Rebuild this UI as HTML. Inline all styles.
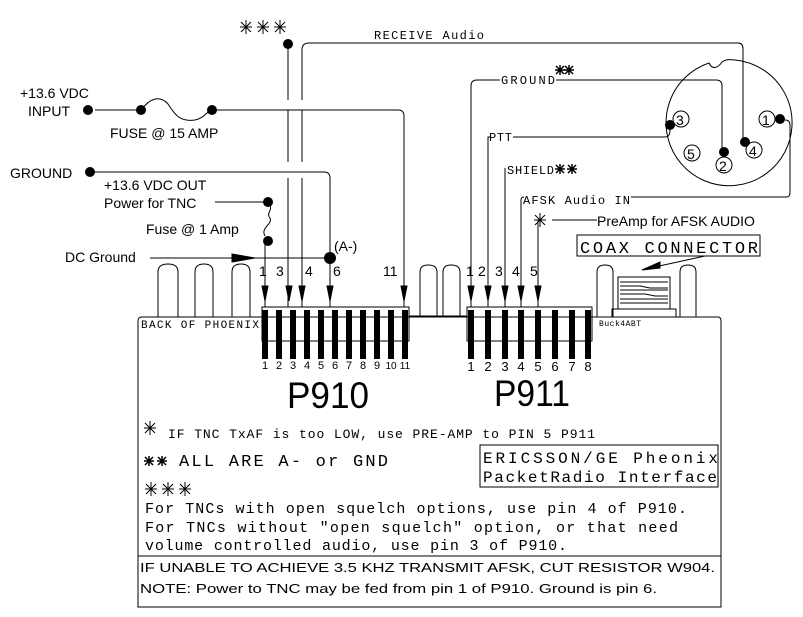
<!DOCTYPE html>
<html><head><meta charset="utf-8"><style>
html,body{margin:0;padding:0;background:#fff;width:803px;height:617px;overflow:hidden}
svg{display:block}
text{font-family:"Liberation Sans",sans-serif;fill:#000}
.m{font-family:"Liberation Mono",monospace}
</style></head><body>
<svg width="803" height="617" viewBox="0 0 803 617" xmlns="http://www.w3.org/2000/svg" stroke="#000" fill="none" stroke-width="1">
<defs>
<g id="ast"><path d="M-6 0 H6 M0 -7 V7 M-5 -5 L5 5 M5 -5 L-5 5"/></g>
<g id="asts"><path d="M-5 0 H5 M0 -5 V5 M-4 -4 L4 4 M4 -4 L-4 4" stroke-width="1.5"/></g>
</defs>
<path d="M142 317 H718 Q721 317 721 321 V607 H138 V321 Q138 317 142 317 Z"/>
<line x1="138" y1="556" x2="721" y2="556"/>
<rect x="480" y="445" width="238" height="42"/>
<g>
<path d="M158 317 V272 Q158 264 168 264 Q178 264 178 272 V317"/>
<path d="M195 317 V272 Q195 264 204 264 Q213 264 213 272 V317"/>
<path d="M232 317 V272 Q232 264 241 264 Q250 264 250 272 V317"/>
<path d="M420 316 V272 Q420 265 428 265 Q437 265 437 272 V316"/>
<path d="M443 316 V272 Q443 265 451 265 Q460 265 460 272 V316"/>
<path d="M597 317 V272 Q597 265 605 265 Q613 265 613 272 V317"/>
<path d="M680 317 V272 Q680 265 688 265 Q696 265 696 272 V317"/>
<line x1="409" y1="316" x2="467" y2="316"/>
</g>
<rect x="618" y="277" width="52" height="32"/>
<rect x="612" y="309" width="64" height="8"/>
<path d="M620 282 H668 M620 286 H640 L650 288 H668 M620 290 H668 M620 294 H645 L655 296 H668 M620 299 H668 M620 303 H668"/>
<rect x="577" y="235" width="183" height="21"/>
<line x1="705" y1="256" x2="650" y2="268"/>
<path d="M642 270 L660 262 L660 268 Z" fill="#000"/>
<rect x="262" y="307" width="147" height="34"/>
<g fill="#000" stroke="none">
<rect x="262" y="310" width="6" height="49"/><rect x="276" y="310" width="6" height="49"/><rect x="290" y="310" width="6" height="49"/><rect x="304" y="310" width="6" height="49"/><rect x="318" y="310" width="6" height="49"/><rect x="332" y="310" width="6" height="49"/><rect x="346" y="310" width="6" height="49"/><rect x="360" y="310" width="6" height="49"/><rect x="374" y="310" width="6" height="49"/><rect x="388" y="310" width="6" height="49"/><rect x="402" y="310" width="6" height="49"/>
<rect x="468" y="310" width="6" height="49"/><rect x="485" y="310" width="6" height="49"/><rect x="502" y="310" width="6" height="49"/><rect x="518" y="310" width="6" height="49"/><rect x="535" y="310" width="6" height="49"/><rect x="552" y="310" width="6" height="49"/><rect x="569" y="310" width="6" height="49"/><rect x="585" y="310" width="6" height="49"/>
</g>
<rect x="467" y="307" width="125" height="34"/>
<g font-size="11" stroke="none" text-anchor="middle">
<text x="265" y="369">1</text><text x="279" y="369">2</text><text x="293" y="369">3</text><text x="307" y="369">4</text><text x="321" y="369">5</text><text x="335" y="369">6</text><text x="349" y="369">7</text><text x="363" y="369">8</text><text x="377" y="369">9</text><text x="391" y="369" font-size="10">10</text><text x="405" y="369" font-size="10">11</text>
</g>
<g font-size="13" stroke="none" text-anchor="middle">
<text x="471" y="371">1</text><text x="488" y="371">2</text><text x="505" y="371">3</text><text x="521" y="371">4</text><text x="538" y="371">5</text><text x="555" y="371">6</text><text x="572" y="371">7</text><text x="588" y="371">8</text>
</g>
<g fill="#000">
<path d="M262 286 L268 286 L265 301 Z"/><path d="M286 286 L292 286 L289 301 Z"/><path d="M299 286 L305 286 L302 301 Z"/><path d="M327 286 L333 286 L330 301 Z"/><path d="M401 286 L407 286 L404 301 Z"/>
<path d="M468 286 L474 286 L471 301 Z"/><path d="M485 286 L491 286 L488 301 Z"/><path d="M502 286 L508 286 L505 301 Z"/><path d="M518 286 L524 286 L521 301 Z"/><path d="M535 286 L541 286 L538 301 Z"/>
</g>
<g>
<line x1="265" y1="240" x2="265" y2="307"/>
<path d="M288 44 V100 M288 110 V162 M288 178 V307"/>
<path d="M302 100 V50 Q302 43 309 43 H738 Q743 43 743 49 V142"/>
<path d="M302 110 V162 M302 178 V307"/>
<line x1="330" y1="258" x2="330" y2="307"/>
<path d="M212 110 H398 Q404 110 404 116 V307"/>
<path d="M95 110 H141"/>
<path d="M141 110 C150 98 160 95 168 104 C175 115 180 122 195 120 C205 118 208 110 212 110"/>
<path d="M90 172 H324 Q330 172 330 178 V258"/>
<path d="M215 202 H268"/>
<path d="M268 202 C275 210 265 213 270 218 C273 224 260 228 265 236"/>
<path d="M150 258 H330"/>
<path d="M471 307 V86 Q471 80 477 80 H500 M556 80 H716 Q722 80 722 86 V152"/>
<path d="M488 307 V137 H490 M513 137 H665 Q670 137 670 130"/>
<path d="M505 307 V168"/>
<path d="M521 307 V200 Q521 197 524 197 M631 197 H787 Q790 197 790 192 V125 Q790 120 785 120"/>
<path d="M538 307 V220 M552 220 H597"/>
</g>
<use href="#ast" x="540" y="220"/>
<use href="#ast" x="246" y="27"/><use href="#ast" x="263" y="27"/><use href="#ast" x="280" y="27"/>
<use href="#asts" x="560" y="70"/><use href="#asts" x="569" y="70"/>
<use href="#asts" x="560" y="169"/><use href="#asts" x="572" y="169"/>
<use href="#ast" x="150" y="428"/>
<use href="#asts" x="149" y="461"/><use href="#asts" x="162" y="461"/>
<use href="#ast" x="151" y="489"/><use href="#ast" x="168" y="489"/><use href="#ast" x="185" y="489"/>
<path d="M232 254 L255 258 L232 262 Z" fill="#000"/>
<g fill="#000" stroke="none">
<circle cx="288" cy="44" r="5"/><circle cx="88" cy="110" r="5"/><circle cx="141" cy="110" r="5"/><circle cx="212" cy="110" r="5"/>
<circle cx="90" cy="172" r="5"/><circle cx="268" cy="202" r="5"/><circle cx="268" cy="241" r="5"/><circle cx="330" cy="258" r="6"/>
<circle cx="670" cy="125" r="5"/><circle cx="724" cy="152" r="5"/><circle cx="745" cy="142" r="5"/><circle cx="780" cy="119" r="5"/>
</g>
<path d="M709 63 C712 70 718 68 722 62 C727 58 733 60 735 60 A63 63 0 1 1 709 63 Z"/>
<circle cx="681" cy="119" r="8"/><text x="676" y="125" font-size="14" stroke="none">3</text>
<circle cx="767" cy="119" r="8"/><text x="762" y="125" font-size="14" stroke="none">1</text>
<circle cx="692" cy="153" r="8"/><text x="687" y="159" font-size="14" stroke="none">5</text>
<circle cx="754" cy="150" r="8"/><text x="749" y="156" font-size="14" stroke="none">4</text>
<circle cx="724" cy="165" r="8"/><text x="719" y="171" font-size="14" stroke="none">2</text>
<g stroke="none" font-size="14">
<text x="20" y="98">+13.6 VDC</text>
<text x="28" y="116">INPUT</text>
<text x="110" y="138">FUSE @ 15 AMP</text>
<text x="10" y="178">GROUND</text>
<text x="104" y="190">+13.6 VDC OUT</text>
<text x="104" y="208">Power for TNC</text>
<text x="146" y="234">Fuse @ 1 Amp</text>
<text x="65" y="262">DC Ground</text>
<text x="334" y="251">(A-)</text>
<text x="259" y="276">1</text><text x="276" y="276">3</text><text x="305" y="276">4</text><text x="333" y="276">6</text><text x="383" y="276">11</text>
<text x="466" y="276">1</text><text x="478" y="276">2</text><text x="495" y="276">3</text><text x="512" y="276">4</text><text x="530" y="276">5</text>
<text x="597" y="226">PreAmp for AFSK AUDIO</text>
<text x="140" y="572" font-size="13" textLength="575" lengthAdjust="spacingAndGlyphs">IF UNABLE TO ACHIEVE 3.5 KHZ TRANSMIT AFSK, CUT RESISTOR W904.</text>
<text x="140" y="593" font-size="13" textLength="517" lengthAdjust="spacingAndGlyphs">NOTE: Power to TNC may be fed from pin 1 of P910.  Ground is pin 6.</text>
<text x="287" y="408" font-size="37" textLength="82" lengthAdjust="spacingAndGlyphs">P910</text>
<text x="494" y="406" font-size="37" textLength="76" lengthAdjust="spacingAndGlyphs">P911</text>
</g>
<g stroke="none">
<text x="374" y="39" font-size="12" class="m" textLength="110">RECEIVE Audio</text>
<text x="501" y="84" font-size="12" class="m" textLength="54">GROUND</text>
<text x="489" y="141" font-size="12" class="m" textLength="23">PTT</text>
<text x="507" y="174" font-size="12" class="m" textLength="47">SHIELD</text>
<text x="523" y="204" font-size="12" class="m" textLength="107">AFSK Audio IN</text>
<text x="580" y="253" font-size="17" class="m" textLength="178">COAX  CONNECTOR</text>
<text x="141" y="328" font-size="11" class="m" textLength="118">BACK OF PHOENIX</text>
<text x="599" y="326" font-size="8" class="m" textLength="42">Buck4ABT</text>
<text x="168" y="438" font-size="13" class="m" textLength="427">IF TNC TxAF is too LOW, use PRE-AMP to PIN 5 P911</text>
<text x="179" y="466" font-size="17" class="m" textLength="209">ALL ARE A- or GND</text>
<text x="145" y="513" font-size="15" class="m" textLength="542">For TNCs with open squelch options, use pin 4 of P910.</text>
<text x="145" y="532" font-size="15" class="m" textLength="533">For TNCs without "open squelch" option, or that need</text>
<text x="145" y="550" font-size="15" class="m" textLength="422">volume controlled audio, use pin 3 of P910.</text>
<text x="483" y="463" font-size="16" class="m" textLength="235">ERICSSON/GE  Pheonix</text>
<text x="483" y="482" font-size="16" class="m" textLength="234">PacketRadio Interface</text>
</g>
</svg>
</body></html>
